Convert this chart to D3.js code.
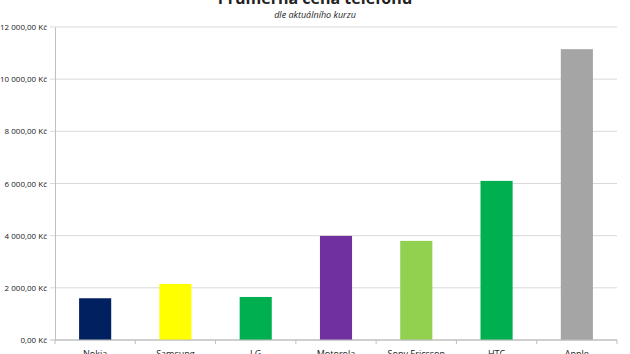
<!DOCTYPE html>
<html>
<head>
<meta charset="utf-8">
<script src="https://cdn.jsdelivr.net/npm/d3@7"></script>
<style>
  body { margin: 0; background: #fff; overflow: hidden; }
  #chart { width: 630px; height: 354px; }
  text { font-family: "Open Sans", "Liberation Sans", sans-serif; fill: #222; }
</style>
</head>
<body>
<div id="chart"></div>
<script>
// data
const brands = ['Nokia', 'Samsung', 'LG', 'Motorola', 'Sony Ericsson', 'HTC', 'Apple'];
const prices = [1600, 2150, 1650, 3990, 3800, 6100, 11150];
const barColors = ['#002060', '#ffff00', '#00b050', '#7030a0', '#92d050', '#00b050', '#a5a5a5'];
const yTicks = [0, 2000, 4000, 6000, 8000, 10000, 12000];

function drawChart() {
    const margin = {top: 27, right: 13, bottom: 14, left: 55};
    const width = 630 - margin.left - margin.right;
    const height = 354 - margin.top - margin.bottom;

    const svg = d3.select('#chart')
        .append('svg')
        .attr('width', 630)
        .attr('height', 354);

    // titles (main one is cut off at the top in the picture)
    svg.append('text')
        .attr('x', 315)
        .attr('y', 4)
        .attr('text-anchor', 'middle')
        .style('font-size', '16px')
        .style('font-weight', 'bold')
        .text('Průměrná cena telefonu');
    svg.append('text')
        .attr('x', 315)
        .attr('y', 18)
        .attr('text-anchor', 'middle')
        .style('font-size', '9px')
        .style('font-style', 'italic')
        .text('dle aktuálního kurzu');

    const g = svg.append('g')
        .attr('transform', `translate(${margin.left}, ${margin.top})`);

    const x = d3.scaleBand()
        .domain(brands)
        .range([0, width])
        .paddingInner(0.6)
        .paddingOuter(0.3);

    const y = d3.scaleLinear()
        .domain([0, 12000])
        .range([height, 0]);

    const fmt = v => d3.format(',.2f')(v).replace(/,/g, ' ').replace('.', ',') + ' Kč';

    // gridlines
    g.selectAll('.grid')
        .data(yTicks)
        .join('line')
        .attr('class', 'grid')
        .attr('x1', -5)
        .attr('x2', width)
        .attr('y1', d => y(d))
        .attr('y2', d => y(d))
        .attr('stroke', d => d === 0 ? '#bfbfbf' : '#d9d9d9')
        .attr('stroke-width', 1);

    // y axis
    const yAxis = g.append('g')
        .call(d3.axisLeft(y).tickValues(yTicks).tickFormat(fmt).tickSize(0).tickPadding(8));
    yAxis.select('.domain').attr('stroke', '#bfbfbf');
    yAxis.selectAll('text').style('font-size', '8px').attr('fill', '#222');

    // bars
    g.selectAll('.bar')
        .data(brands)
        .join('rect')
        .attr('class', 'bar')
        .attr('x', d => x(d))
        .attr('y', (d, i) => y(prices[i]))
        .attr('width', x.bandwidth())
        .attr('height', (d, i) => height - y(prices[i]))
        .attr('fill', (d, i) => barColors[i]);

    // x axis with ticks between categories
    const step = x.step();
    const xAxis = g.append('g')
        .attr('transform', `translate(0, ${height})`);
    xAxis.append('line')
        .attr('x1', 0).attr('x2', width)
        .attr('stroke', '#bfbfbf');
    xAxis.selectAll('.xtick')
        .data(d3.range(brands.length + 1))
        .join('line')
        .attr('class', 'xtick')
        .attr('x1', i => i * step)
        .attr('x2', i => i * step)
        .attr('y1', 0)
        .attr('y2', 4)
        .attr('stroke', '#bfbfbf');
    xAxis.selectAll('.xlabel')
        .data(brands)
        .join('text')
        .attr('class', 'xlabel')
        .attr('x', d => x(d) + x.bandwidth() / 2)
        .attr('y', 17)
        .attr('text-anchor', 'middle')
        .style('font-size', '9px')
        .text(d => d);
}

drawChart();
</script>
</body>
</html>
